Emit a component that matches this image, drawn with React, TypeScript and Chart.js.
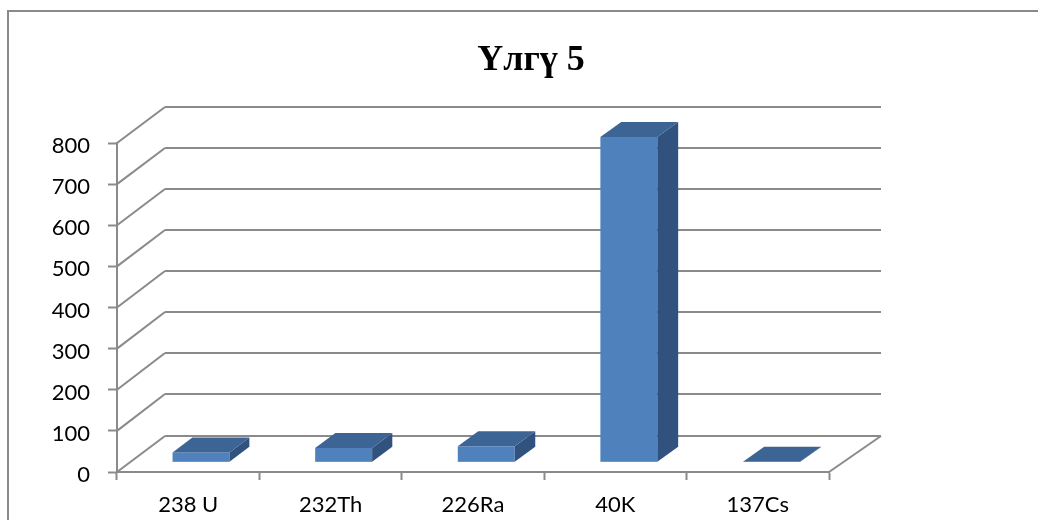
import React, { useEffect, useRef } from "react";
import { Chart, registerables } from "chart.js";

Chart.register(...registerables);

// Chart content
const titleText = "Үлгү 5";
const categories = ["238 U", "232Th", "226Ra", "40K", "137Cs"];
const activity = [24, 35, 39, 791, 1];
const yMin = 0;
const yMax = 800;
const yStep = 100;

// Look
const AXIS_FONT = "Lato";
const TITLE_FONT = '"Liberation Serif"';
const LINE_GRAY = "#8a8a8a";
const FACE_FRONT = "#4f81bd";
const FACE_TOP = "#3c6494";
const FACE_SIDE = "#31527e";

// Oblique depth of the plot box (horizontal shift grows slightly to the right)
const DEPTH_DX_LEFT = 48;
const DEPTH_DX_RIGHT = 52;
const DEPTH_DY = -36.5;
// Where the columns sit inside that depth, as fractions of it
const BAR_FRONT = 0.265;
const BAR_DEPTH = 0.41;

function depthDx(x: number, area: { left: number; right: number }) {
  const t = (x - area.left) / (area.right - area.left);
  return DEPTH_DX_LEFT + t * (DEPTH_DX_RIGHT - DEPTH_DX_LEFT);
}

function line(ctx: CanvasRenderingContext2D, x1: number, y1: number, x2: number, y2: number) {
  ctx.beginPath();
  ctx.moveTo(x1, y1);
  ctx.lineTo(x2, y2);
  ctx.stroke();
}

function poly(ctx: CanvasRenderingContext2D, pts: number[][], fill: string) {
  ctx.beginPath();
  ctx.moveTo(pts[0][0], pts[0][1]);
  for (let i = 1; i < pts.length; i++) ctx.lineTo(pts[i][0], pts[i][1]);
  ctx.closePath();
  ctx.fillStyle = fill;
  ctx.fill();
}

const framePlugin = {
  id: "frameAndTitle",
  beforeDraw(chart: any) {
    const ctx: CanvasRenderingContext2D = chart.ctx;
    ctx.save();
    ctx.fillStyle = "#ffffff";
    ctx.fillRect(0, 0, chart.width, chart.height);
    ctx.strokeStyle = LINE_GRAY;
    ctx.lineWidth = 2;
    ctx.strokeRect(8, 11, chart.width + 50, chart.height + 50);
    ctx.fillStyle = "#000000";
    ctx.font = `bold 36px ${TITLE_FONT}`;
    ctx.textAlign = "center";
    ctx.textBaseline = "alphabetic";
    ctx.fillText(titleText, 531, 70);
    ctx.restore();
  },
};

const wallsPlugin = {
  id: "walls3d",
  beforeDatasetsDraw(chart: any) {
    const ctx: CanvasRenderingContext2D = chart.ctx;
    const area = chart.chartArea;
    const yScale = chart.scales.y;
    const dxL = depthDx(area.left, area);
    const dxR = depthDx(area.right, area);
    ctx.save();
    ctx.strokeStyle = LINE_GRAY;
    ctx.lineWidth = 2;
    ctx.lineCap = "butt";
    for (let v = yMin; v <= yMax; v += yStep) {
      const yf = yScale.getPixelForValue(v);
      const yb = Math.round(yf + DEPTH_DY);
      // side wall diagonal
      line(ctx, area.left, yf, area.left + dxL, yb);
      // back wall gridline
      line(ctx, area.left + dxL, yb, area.right + dxR, yb);
    }
    // right edge of the floor
    const y0 = yScale.getPixelForValue(yMin);
    line(ctx, area.right, y0, area.right + dxR, Math.round(y0 + DEPTH_DY));
    ctx.restore();
  },
  afterDatasetsDraw(chart: any) {
    const ctx: CanvasRenderingContext2D = chart.ctx;
    const area = chart.chartArea;
    const meta = chart.getDatasetMeta(0);
    ctx.save();
    meta.data.forEach((bar: any) => {
      const { x, y, base, width } = bar.getProps(["x", "y", "base", "width"], true);
      const ddx = depthDx(x, area);
      const fx = ddx * BAR_FRONT;
      const fy = DEPTH_DY * BAR_FRONT;
      const bx = ddx * BAR_DEPTH;
      const by = DEPTH_DY * BAR_DEPTH;
      const l = x - width / 2 + fx;
      const r = x + width / 2 + fx;
      const t = Math.min(y, base) + fy;
      const b = Math.max(y, base) + fy;
      // front face
      ctx.fillStyle = FACE_FRONT;
      ctx.fillRect(l, t, r - l, b - t);
      // right side face
      poly(ctx, [[r, t], [r + bx, t + by], [r + bx, b + by], [r, b]], FACE_SIDE);
      // top face
      poly(ctx, [[l, t], [r, t], [r + bx, t + by], [l + bx, t + by]], FACE_TOP);
    });
    ctx.restore();
  },
};

export default function App() {
  const canvasRef = useRef<HTMLCanvasElement | null>(null);

  useEffect(() => {
    if (!canvasRef.current) return;
    const chart = new Chart(canvasRef.current, {
      type: "bar",
      data: {
        labels: categories,
        datasets: [
          {
            data: activity,
            backgroundColor: "rgba(0,0,0,0)",
            borderWidth: 0,
            barPercentage: 0.4,
            categoryPercentage: 1,
          },
        ],
      },
      options: {
        responsive: false,
        animation: false,
        events: [],
        layout: { padding: { left: 0, top: 143, right: 209, bottom: 0 } },
        plugins: {
          legend: { display: false },
          title: { display: false },
          tooltip: { enabled: false },
        },
        scales: {
          x: {
            offset: true,
            afterFit(scale: any) {
              scale.height = 48;
            },
            border: { display: true, color: LINE_GRAY, width: 2 },
            grid: {
              offset: true,
              drawOnChartArea: false,
              drawTicks: true,
              tickLength: 8,
              tickWidth: 2,
              tickColor: LINE_GRAY,
            },
            ticks: {
              color: "#000000",
              padding: 12,
              maxRotation: 0,
              font: { family: AXIS_FONT, size: 22 },
            },
          },
          y: {
            min: yMin,
            max: yMax,
            afterFit(scale: any) {
              scale.width = 117;
            },
            border: { display: true, color: LINE_GRAY, width: 2 },
            grid: {
              drawOnChartArea: false,
              drawTicks: true,
              tickLength: 9,
              tickWidth: 2,
              tickColor: LINE_GRAY,
            },
            ticks: {
              stepSize: yStep,
              color: "#000000",
              padding: 18,
              labelOffset: 3,
              font: { family: AXIS_FONT, size: 22 },
            },
          },
        },
      },
      plugins: [framePlugin, wallsPlugin],
    });
    return () => chart.destroy();
  }, []);

  return (
    <div style={{ position: "fixed", left: 0, top: 0, width: 1038, height: 520, background: "#fff" }}>
      <canvas ref={canvasRef} width={1038} height={520} style={{ display: "block" }} />
    </div>
  );
}
